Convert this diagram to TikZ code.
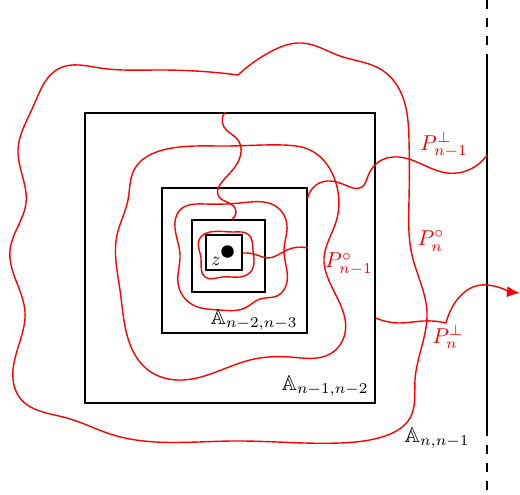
\documentclass[tikz,border=0pt]{standalone}
\usepackage{amssymb}
\usetikzlibrary{arrows.meta,hobby}
\tikzset{
  box/.style={draw=black, line width=1.5pt, inner sep=0pt, fill=none},
  rpath/.style={draw=red, line width=1.4pt, line join=round},
  vline/.style={line width=1.5pt},
  lab/.style={inner sep=0pt},
  rlab/.style={lab, text=red},
}
\newcommand{\Lb}[1]{\scalebox{2.15}{#1}}
\begin{document}
\begin{tikzpicture}[x=1pt,y=-1pt]
\useasboundingbox (0,0) rectangle (520,495);
% boxes
\node[box, minimum width=290pt, minimum height=290pt] (B1) at (230,258) {};
\node[box, minimum width=145pt, minimum height=145pt] (B2) at (234.5,260.5) {};
\node[box, minimum width=73pt, minimum height=72pt] (B3) at (228.5,256) {};
\node[box, minimum width=36pt, minimum height=35pt] (B4) at (224,252.5) {};
\node[circle, fill=black, minimum size=12.5pt, inner sep=0pt] (zdot) at (227.5,251.5) {};
\node[lab] (zl) at (216,261) {\scalebox{1.9}{$z$}};
% vertical line
\coordinate (v0) at (487,0);
\coordinate (v1) at (487,55);
\coordinate (v2) at (487,433);
\coordinate (v3) at (487,495);
\draw[vline, dash pattern=on 9pt off 9pt] (v0) -- (v1);
\draw[vline] (v1) -- (v2);
\draw[vline, dash pattern=on 9pt off 9pt, dash phase=-12pt] (v2) -- (v3);
% outer loop
\draw[rpath, use Hobby shortcut] (238,75) .. (270,52) .. (302,43) .. (340,56) .. (382,70) .. (402,95) .. (409,140) .. (409,200) .. (412,255) .. (427,312) .. (415,380) .. (410,418) .. (385,436) .. (340,443) .. (233,441) .. (110,434) .. (67,418) .. (20,398) .. (13,370) .. (25,312) .. (10,250) .. (26,203) .. (18,150) .. (33,107) .. (60,68) .. (100,68) .. (160,70) .. (238,75);
% loop 2
\draw[rpath, use Hobby shortcut, closed=true] (227,146) .. (167,149) .. (134,170) .. (128,200) .. (117,235) .. (120,290) .. (127,335) .. (148,370) .. (183,380) .. (250,360) .. (290,357) .. (330,354) .. (345,333) .. (330,283) .. (324,258) .. (336,222) .. (335,180) .. (310,150) .. (283,145);
% wiggle from B1 top to B3 top
\draw[rpath, use Hobby shortcut] (B1.north -| 225,0) .. (224,127) .. (238,140) .. (239,160) .. (222,182) .. (218,195) .. (235,208) .. (B3.north -| 232,0);
% loop 3
\draw[rpath, use Hobby shortcut, closed=true] (180,210) .. (205,204) .. (240,203) .. (277,207) .. (287,225) .. (284,250) .. (287,282) .. (277,296) .. (260,299) .. (245,308) .. (220,310) .. (193,305) .. (178,283) .. (180,255) .. (175,228);
% loop 4
\draw[rpath, use Hobby shortcut, closed=true] (199,240) .. (210,232) .. (233,232) .. (249,235) .. (253,250) .. (252,270) .. (240,277) .. (222,277) .. (205,277) .. (201,258);
% curve from B4 to B2
\draw[rpath, use Hobby shortcut] (B4.east |- 0,253) .. (257,255) .. (267,258) .. (287,250) .. (B2.east |- 0,248);
% curve from B2 corner to vertical line
\draw[rpath, use Hobby shortcut] (B2.east |- 0,198) .. (322,182) .. (345,185) .. (362,187) .. (368,176) .. (380,161) .. (405,158) .. (447,173) .. (v1 |- 0,155);
% curve from B1 out with arrow
\draw[rpath, use Hobby shortcut] (B1.east |- 0,318) .. (400,323) .. (423,321) .. (446,323);
\coordinate (atip) at (520,293);
\draw[rpath, -{Latex[length=13pt, width=11pt]}] (446,323) .. controls (452,300) and (468,283) .. (487,285) .. controls (500,286) and (510,292) .. (atip);
% labels
\node[lab] (l1) at (254,320) {\Lb{$\mathbb{A}_{n-2,n-3}$}};
\node[lab] (l2) at (325,386) {\Lb{$\mathbb{A}_{n-1,n-2}$}};
\node[lab] (l3) at (437,438) {\Lb{$\mathbb{A}_{n,n-1}$}};
\node[rlab] (p1) at (444,145) {\Lb{$P^{\perp}_{n-1}$}};
\node[rlab] (p2) at (431,241) {\Lb{$P^{\circ}_{n}$}};
\node[rlab] (p3) at (349,264) {\Lb{$P^{\circ}_{n-1}$}};
\node[rlab] (p4) at (448,337) {\Lb{$P^{\perp}_{n}$}};
\end{tikzpicture}
\end{document}
